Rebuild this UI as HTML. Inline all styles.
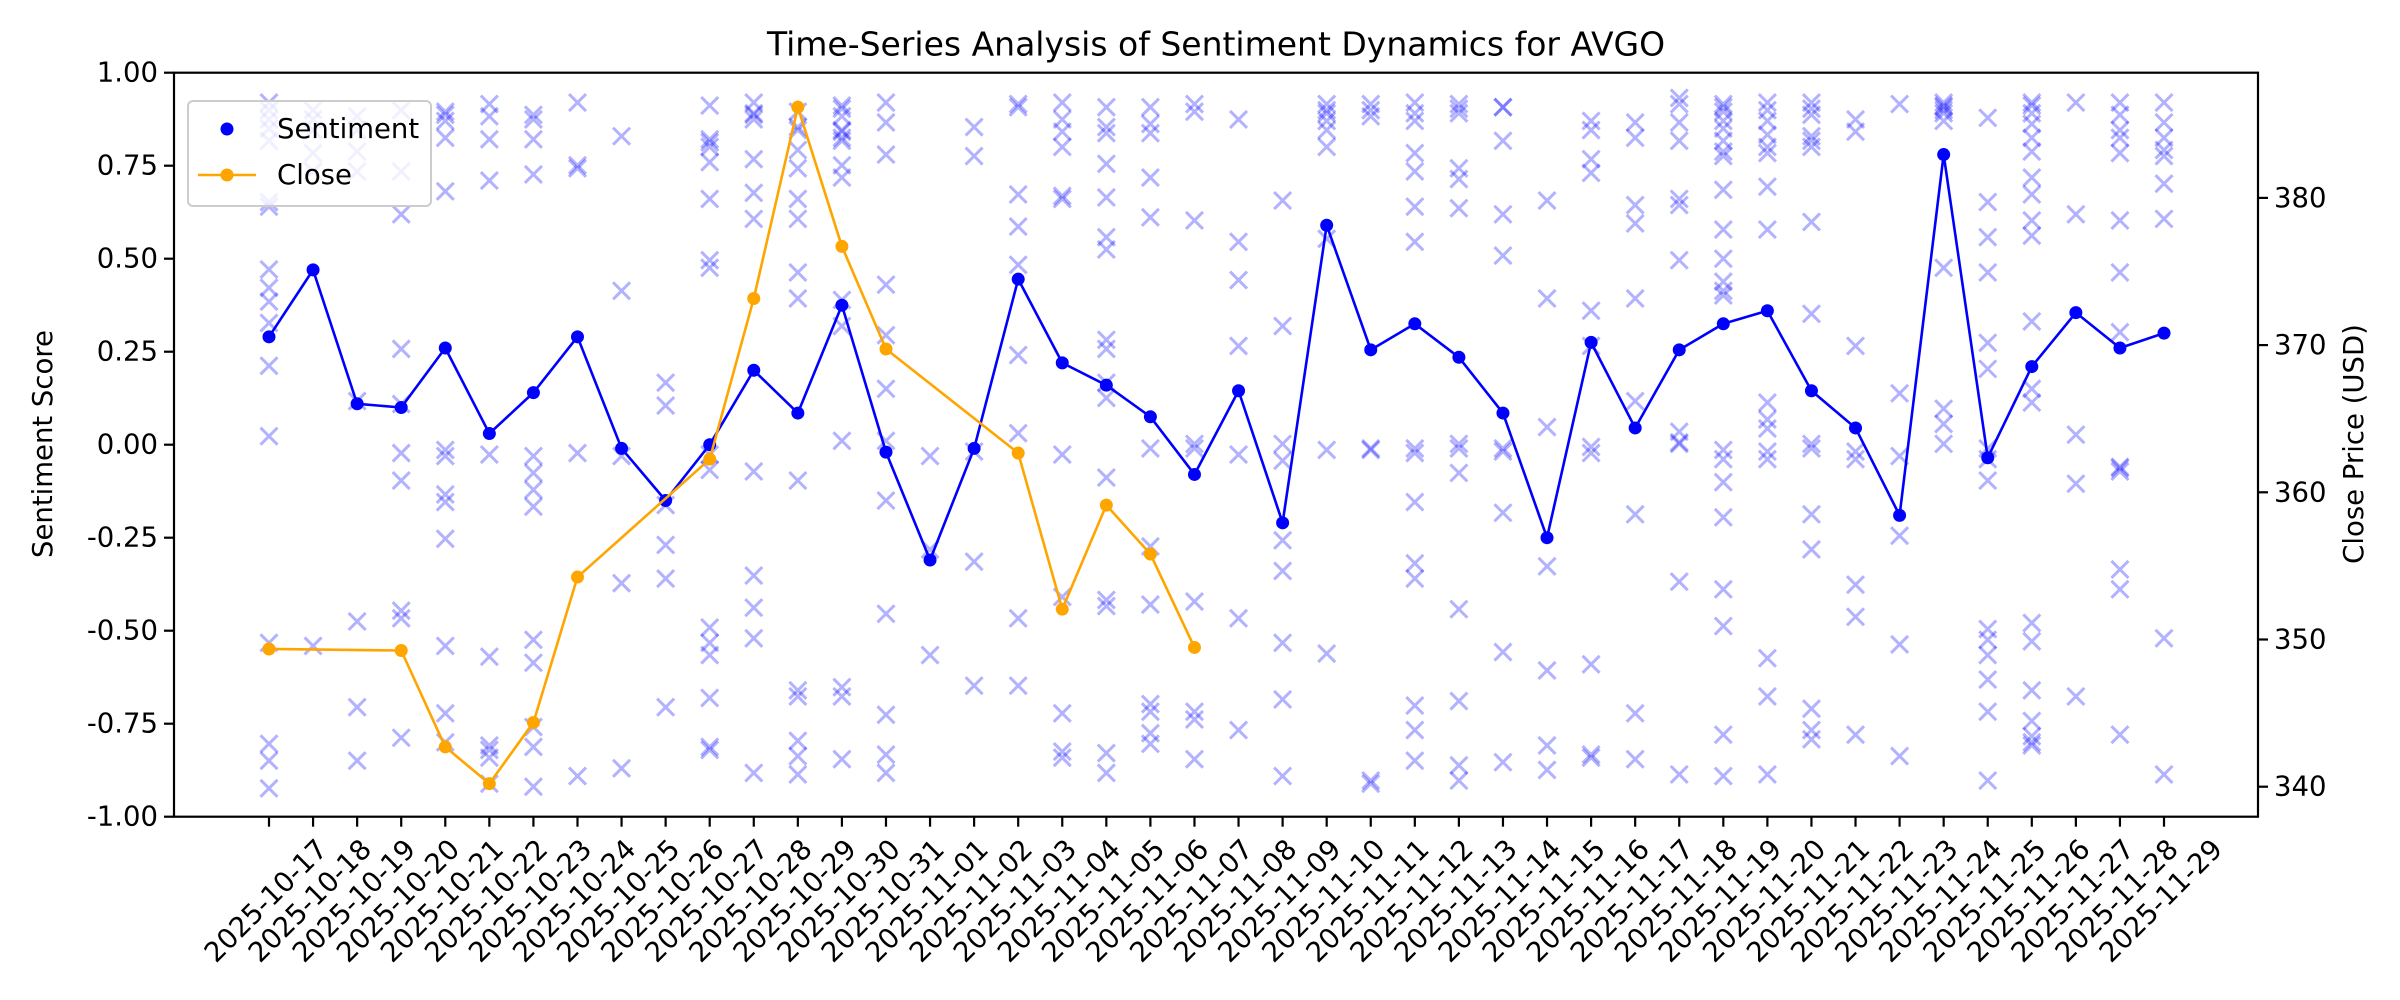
<!DOCTYPE html>
<html><head><meta charset="utf-8"><style>
html,body{margin:0;padding:0;background:#fff;}
svg{display:block;font-family:"DejaVu Sans","Liberation Sans",sans-serif;}
</style></head><body>
<svg id="s" width="2400" height="1000" xmlns="http://www.w3.org/2000/svg"></svg>
<script>
const S=document.getElementById('s');
const NS='http://www.w3.org/2000/svg';
function el(t,a,txt){const e=document.createElementNS(NS,t);for(const k in a)e.setAttribute(k,a[k]);if(txt!==undefined)e.textContent=txt;S.appendChild(e);return e;}
const L=174,R=2258,T=72.7,B=816.7;
const X0=269,DX=44.07;
const yv=v=>T+(1-v)*(B-T)/2;
const yp=p=>786.7-(p-340)*14.72;
const dy=d=>d*1.5306;
el('rect',{x:0,y:0,width:2400,height:1000,fill:'#fff'});
// scatter markers (display y coords)
const cols=[
[67,72,78,84,92,132,135,176,188,197,211,239,285,420,486,497,515],
[72,78,85,100,112,422],
[76,85,99,112,262,406,462,497],
[72,112,140,228,264,296,314,399,404,482],
[73,75,79,90,125,294,298,323,328,352,422,466,485],
[68,76,91,118,297,429,487,490,495,512],
[75,78,91,114,298,309,320,331,418,433,475,488,514],
[67,108,110,296,507],
[89,190,298,381,502],
[250,265,330,356,378,462],
[69,91,93,96,106,130,175,170,297,307,410,420,428,456,488,490],
[67,74,75,78,104,126,143,308,376,397,417,505],
[73,83,85,98,110,130,143,178,195,314,451,455,484,494,506],
[69,71,76,85,86,90,92,108,116,196,213,288,449,455,496],
[67,80,101,186,219,254,288,327,401,467,493,505],
[298,359,428],
[83,102,295,367,448],
[68,70,127,148,173,232,283,404,448],
[67,78,86,96,128,130,297,390,466,491,495],
[70,83,87,107,129,155,163,222,228,250,260,312,392,396,492,505],
[70,81,87,116,142,293,357,395,460,465,479,486],
[68,73,144,290,293,393,465,470,496],
[78,158,183,226,297,404,477],
[131,213,290,301,353,373,420,457,507],
[68,72,74,79,85,96,156,294,427],
[68,72,76,294,293,510,512],
[67,74,79,100,112,135,158,293,296,328,368,378,461,477,497],
[68,71,74,110,117,136,290,293,309,398,458,500,510],
[70,70,92,140,167,293,295,335,426,498],
[131,195,279,370,438,487,503],
[79,85,104,113,203,226,292,296,434,493,495],
[80,90,134,146,195,262,336,466,496],
[64,68,80,92,130,134,170,282,289,290,380,506],
[68,70,73,79,84,92,99,102,124,150,169,184,190,193,294,300,315,338,385,409,480,507],
[67,72,79,88,96,100,122,150,263,274,280,295,300,430,455,506],
[67,71,75,89,92,96,145,205,290,293,336,359,463,477,483],
[78,86,226,295,300,382,403,480],
[68,257,298,350,421,494],
[67,69,70,72,74,79,175,290,267,277],
[77,132,155,178,224,241,293,300,314,411,418,428,444,465,510],
[67,69,74,81,90,99,116,127,144,154,210,254,263,407,419,451,471,481,485,487],
[67,140,284,316,455],
[67,75,85,90,100,144,178,217,305,308,306,372,385,480],
[67,80,90,98,102,120,143,417,506]];
const m=8.5;
cols.forEach((c,i)=>{const x=X0+i*DX;c.forEach(d=>{const y=dy(d);
el('path',{d:`M${x-m},${y-m}L${x+m},${y+m}M${x-m},${y+m}L${x+m},${y-m}`,stroke:'#0000ff','stroke-opacity':0.3,'stroke-width':3,fill:'none'});});});
// sentiment line
const sv=[0.29,0.47,0.11,0.10,0.26,0.03,0.14,0.29,-0.01,-0.15,0.00,0.20,0.085,0.375,-0.02,-0.31,-0.01,0.445,0.22,0.16,0.075,-0.08,0.145,-0.21,0.59,0.255,0.325,0.235,0.085,-0.25,0.275,0.045,0.255,0.325,0.36,0.145,0.045,-0.19,0.78,-0.035,0.21,0.355,0.26,0.30];
el('polyline',{points:sv.map((v,i)=>`${X0+i*DX},${yv(v)}`).join(' '),fill:'none',stroke:'#0000ff','stroke-width':2.6,'stroke-linejoin':'round'});
sv.forEach((v,i)=>el('circle',{cx:X0+i*DX,cy:yv(v),r:6.5,fill:'#0000ff'}));
// close line
const cl=[[0,424],[3,425],[4,488],[5,512],[6,472],[7,377],[10,300],[11,195],[12,70],[13,161],[14,228],[17,296],[18,398],[19,330],[20,362],[21,423]];
el('polyline',{points:cl.map(([i,d])=>`${X0+i*DX},${dy(d)}`).join(' '),fill:'none',stroke:'#ffa500','stroke-width':2.6,'stroke-linejoin':'round'});
cl.forEach(([i,d])=>el('circle',{cx:X0+i*DX,cy:dy(d),r:6.5,fill:'#ffa500'}));
// axes frame
el('rect',{x:L,y:T,width:R-L,height:B-T,fill:'none',stroke:'#000','stroke-width':2.2});
// left ticks
for(let k=0;k<=8;k++){const v=-1+k*0.25,y=yv(v);el('line',{x1:L-10,y1:y,x2:L,y2:y,stroke:'#000','stroke-width':2.2});
el('text',{x:L-16,y:y,'font-size':27.5,'text-anchor':'end','dominant-baseline':'central'},v.toFixed(2));}
// right ticks
for(let p=340;p<=380;p+=10){const y=yp(p);el('line',{x1:R,y1:y,x2:R+10,y2:y,stroke:'#000','stroke-width':2.2});
el('text',{x:R+16,y:y,'font-size':27.5,'text-anchor':'start','dominant-baseline':'central'},p);}
// x ticks and labels
const dates=[];for(let d=17;d<=31;d++)dates.push('2025-10-'+d);for(let d=1;d<=29;d++)dates.push('2025-11-'+String(d).padStart(2,'0'));
dates.forEach((t,i)=>{const x=X0+i*DX;el('line',{x1:x,y1:B,x2:x,y2:B+10,stroke:'#000','stroke-width':2.2});
el('text',{x:0,y:0,'font-size':27.5,'text-anchor':'middle','dominant-baseline':'central',transform:`translate(${x-3},${901}) rotate(-45)`},t);});
// labels
el('text',{x:1216,y:44,'font-size':33,'text-anchor':'middle','dominant-baseline':'central'},'Time-Series Analysis of Sentiment Dynamics for AVGO');
el('text',{x:0,y:0,'font-size':27.5,'text-anchor':'middle','dominant-baseline':'central',transform:'translate(43,444) rotate(-90)'},'Sentiment Score');
el('text',{x:0,y:0,'font-size':27.5,'text-anchor':'middle','dominant-baseline':'central',transform:'translate(2354,444) rotate(-90)'},'Close Price (USD)');
// legend
el('rect',{x:188,y:101,width:243,height:105,rx:5,fill:'#fff','fill-opacity':0.8,stroke:'#ccc','stroke-width':2});
el('circle',{cx:227,cy:129,r:6.5,fill:'#0000ff'});
el('line',{x1:198,y1:175,x2:256,y2:175,stroke:'#ffa500','stroke-width':2.6});
el('circle',{cx:227,cy:175,r:6.5,fill:'#ffa500'});
el('text',{x:277,y:129,'font-size':27.5,'dominant-baseline':'central'},'Sentiment');
el('text',{x:277,y:175,'font-size':27.5,'dominant-baseline':'central'},'Close');
</script>
</body></html>
